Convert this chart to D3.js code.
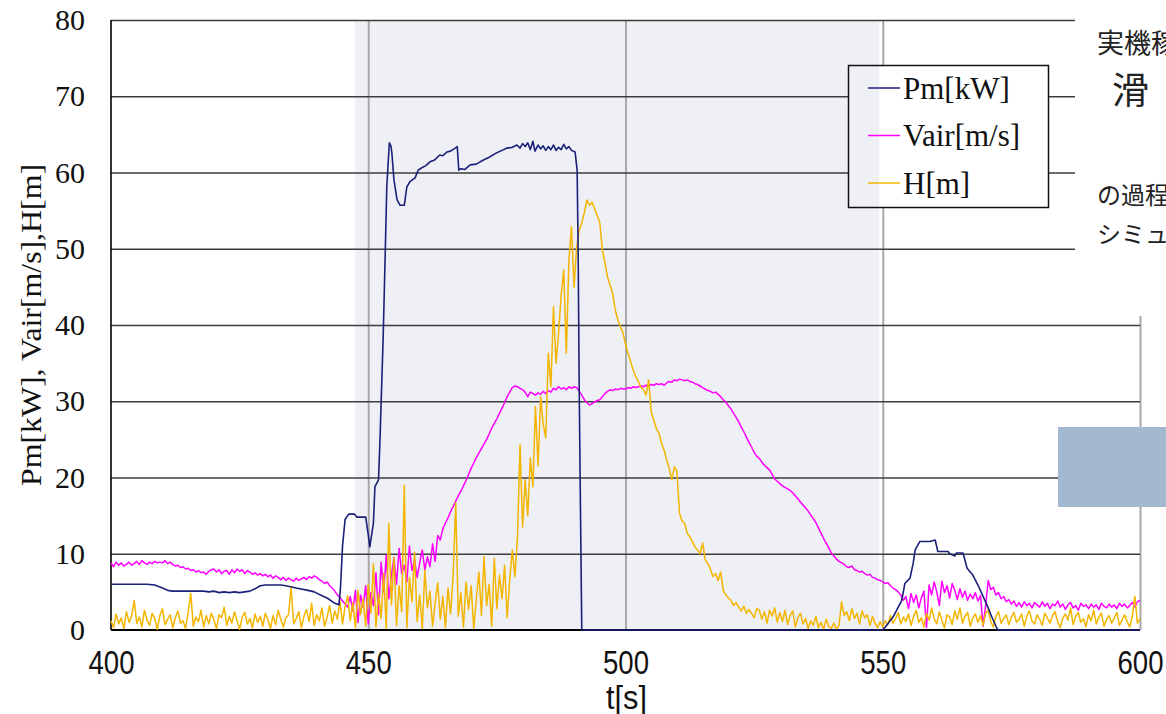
<!DOCTYPE html>
<html>
<head>
<meta charset="utf-8">
<script src="https://cdn.jsdelivr.net/npm/d3@7"></script>
<style>
html, body { margin: 0; padding: 0; background: #fff; overflow: hidden; }
svg { display: block; }
</style>
</head>
<body>
<svg id="chart" width="1166" height="714"></svg>
<script>
// ---- axis setup ----
const xDomain = [400, 600];
const yDomain = [0, 80];
const xTicks = [400, 450, 500, 550, 600];
const yTicks = [0, 10, 20, 30, 40, 50, 60, 70, 80];
const xGridTicks = [450, 500, 550, 600];
const xTitle = "t[s]";
const yTitle = "Pm[kW], Vair[m/s],H[m]";

// ---- series ----
const seriesNames = ["Pm[kW]", "Vair[m/s]", "H[m]"];
const seriesColors = ["#1b2179", "#ff00ff", "#f3b500"];

// highlighted interval [s]
const shadeRange = [447.4, 549.3];

// Vair and H are logged every 0.5 s from t = 400 s
const sampleStart = 400;
const sampleStep = 0.5;

// Pm [kW]: time / value pairs
const pmT = [400, 407, 408.5, 410, 411, 412, 418, 419, 420, 421, 422, 423, 424, 425, 426, 427, 428, 429, 430, 433,
  434, 436, 438.3, 439.5, 441, 442, 443.5, 444.3, 444.6, 445, 445.5, 446.2, 447.3, 447.8, 449.5, 450, 450.3, 451, 451.3, 452,
  452.3, 452.6, 452.9, 453.3, 453.6, 454.1, 454.4, 454.6, 455, 455.6, 456.2, 457, 457.5, 458.1, 459.1, 459.7, 460.6, 461.2, 462, 462.8,
  463.9, 464.5, 465.3, 466, 466.9, 467.3, 467.6, 468, 468.8, 469.8, 471, 472.3, 473.5, 475, 476, 477, 478, 478.9, 479.5, 480,
  480.5, 481, 481.5, 482, 482.4, 483, 483.5, 484, 484.5, 485, 485.5, 486, 486.5, 487, 487.5, 488, 488.5, 489, 489.5, 490.2,
  490.6, 490.8, 491, 491.2, 491.5, 550, 550.5, 552, 553.7, 554.3, 555.3, 555.9, 556.3, 557.2, 559.2, 560.2, 560.7, 562.7, 563, 564,
  564.3, 565.6, 566.4, 567.5, 568.5, 569.5, 570.5, 571.2, 572.2, 572.5, 600];
const pmV = [6.0, 6.0, 5.9, 5.5, 5.2, 5.1, 5.1, 5.0, 5.1, 4.9, 5.0, 4.9, 5.0, 4.9, 5.0, 5.1, 5.4, 5.8, 5.9, 5.9,
  5.8, 5.5, 5.2, 5.0, 4.5, 4.2, 3.5, 3.3, 5.5, 11.0, 14.5, 15.2, 15.2, 14.8, 14.8, 12.5, 10.9, 14.0, 18.8, 19.7,
  25.3, 31.9, 38.4, 49.4, 58.1, 63.9, 63.5, 62.5, 59.0, 56.4, 55.7, 55.7, 58.1, 58.8, 59.3, 60.3, 60.7, 60.9, 61.4, 61.6,
  62.3, 62.2, 62.7, 62.8, 63.2, 63.4, 60.3, 60.5, 60.4, 61.0, 61.1, 61.6, 62.0, 62.6, 62.9, 63.2, 63.3, 63.6, 63.2, 63.8,
  63.4, 63.9, 63.0, 64.1, 62.8, 63.6, 63.1, 63.5, 62.9, 63.4, 63.0, 63.6, 62.9, 63.3, 63.0, 63.7, 63.1, 63.4, 62.9, 62.7,
  60.3, 49.4, 31.9, 18.8, 0, 0, 0.4, 1.7, 3.9, 6.1, 6.8, 8.7, 10.5, 11.6, 11.6, 11.8, 10.3, 10.3, 10.0, 9.7,
  10.1, 10.1, 8.1, 7.2, 5.9, 4.4, 2.9, 1.7, 0.2, 0, 0];

// Vair [m/s], 0.5 s samples
const vairV = [
  8.8, 8.3, 8.9, 8.5, 8.8, 8.4, 8.6, 8.9, 8.5, 8.7,
  9.0, 8.6, 9.1, 8.8, 8.6, 8.9, 8.7, 9.0, 8.8, 8.9,
  8.8, 9.1, 8.7, 8.9, 8.6, 8.4, 8.5, 8.2, 8.3, 8.0,
  8.1, 7.8, 7.9, 7.6, 7.8, 7.5, 7.6, 7.3, 7.7, 7.9,
  8.0, 7.6, 7.9, 7.4, 7.7, 7.8, 7.3, 7.9, 7.5, 8.0,
  7.7, 7.9, 7.4, 7.8, 7.6, 7.3, 7.5, 7.2, 7.4, 7.1,
  7.3, 7.0, 7.2, 6.8, 7.1, 6.9, 6.6, 6.9, 6.5, 6.8,
  6.6, 6.4, 6.8, 6.5, 6.7, 6.9, 6.6, 7.0, 6.8, 7.1,
  6.9, 6.6, 6.4, 6.1, 6.3, 5.8, 5.5, 5.1, 4.6, 4.3,
  3.8, 3.4, 3.0, 4.4, 2.5, 5.2, 1.0, 4.6, 3.0, 5.8,
  0.8, 4.9, 3.2, 7.5, 2.0, 8.9, 5.0, 9.8, 4.1, 7.2,
  9.5, 6.0, 10.7, 7.4, 8.5, 6.3, 11.0, 7.8, 9.2, 6.9,
  8.8, 10.5, 7.9, 9.6, 8.3, 11.3, 9.0, 12.4, 11.8, 13.3,
  14.0, 14.7, 15.5, 16.2, 16.9, 17.6, 18.2, 18.9, 19.6, 20.4,
  21.2, 21.9, 22.6, 23.2, 23.8, 24.4, 25.0, 25.7, 26.5, 27.1,
  27.7, 28.4, 29.1, 29.8, 30.6, 31.2, 31.8, 32.0, 31.9, 31.7,
  31.5, 31.2, 30.6, 31.2, 31.0, 30.8, 31.1, 30.9, 31.3, 31.0,
  31.4, 31.2, 31.7, 31.5, 31.9, 31.6, 31.8, 31.5, 31.9, 31.7,
  31.9, 31.8, 31.3, 30.8, 30.2, 29.8, 29.5, 29.7, 29.9, 30.1,
  30.2, 30.6, 31.0, 31.3, 31.5, 31.4, 31.6, 31.5, 31.7, 31.6,
  31.6, 31.8, 31.7, 31.9, 31.8, 31.9, 32.0, 31.9, 32.1, 32.0,
  32.2, 32.1, 32.3, 32.2, 32.3, 32.1, 32.4, 32.6, 32.5, 32.8,
  32.7, 32.9, 32.8, 32.7, 32.8, 32.6, 32.5, 32.3, 32.2, 32.0,
  31.8, 31.6, 31.4, 31.3, 31.1, 31.2, 30.9, 30.6, 30.2, 29.9,
  29.4, 29.0, 28.4, 27.9, 27.3, 26.6, 26.0, 25.3, 24.6, 24.0,
  23.3, 22.8, 22.5, 22.0, 21.6, 21.3, 21.0, 20.4, 19.8, 19.5,
  19.2, 18.9, 18.7, 18.5, 18.3, 18.0, 17.6, 17.2, 16.8, 16.4,
  16.0, 15.6, 15.1, 14.6, 14.1, 13.4, 12.7, 12.0, 11.4, 10.8,
  10.1, 9.7, 9.3, 9.0, 8.8, 8.6, 8.3, 8.2, 8.4, 7.9,
  7.8, 7.6, 7.7, 7.4, 7.2, 7.3, 6.9, 6.8, 6.6, 6.5,
  6.3, 6.1, 6.2, 5.8, 5.5, 5.3, 5.0, 4.6, 3.9, 4.4,
  2.8, 4.8, 3.6, 4.6, 2.9, 4.2, 5.1, 0.3, 5.9, 4.6,
  6.3, 5.0, 3.2, 6.4, 4.9, 5.8, 4.2, 6.1, 5.2, 4.0,
  5.4, 4.3, 5.1, 3.9, 4.7, 4.1, 4.9, 3.8, 4.5, 0.5,
  3.2, 6.5, 5.3, 5.6, 4.6, 4.9, 4.1, 4.4, 3.7, 4.0,
  3.4, 3.8, 3.1, 3.6, 3.0, 3.7, 3.2, 3.5, 2.9, 3.6,
  3.3, 3.0, 3.7, 3.1, 3.5, 2.8, 3.4, 3.2, 3.8, 3.0,
  3.4, 2.7, 3.3, 3.6, 2.9, 3.2, 2.6, 3.5, 3.1, 3.3,
  2.8, 3.4, 3.0, 3.3, 2.7, 3.5, 3.1, 2.9, 3.4, 3.0,
  3.3, 2.8, 3.5, 3.1, 3.4, 2.9, 3.2, 3.6, 3.0, 3.7,
  3.9];

// H [m], 0.5 s samples
const hV = [
  1.2, 0.3, 2.1, 0.8, 1.6, 0.2, 2.4, 1.0, 1.8, 3.9,
  0.9, 1.7, 0.4, 2.6, 1.3, 0.6, 2.2, 1.5, 0.1, 1.9,
  2.8, 0.7, 1.4, 2.0, 0.3, 1.6, 2.5, 0.9, 1.2, 0.2,
  2.3, 4.8, 0.5, 1.7, 1.1, 2.6, 0.4, 1.9, 0.8, 2.2,
  1.3, 0.2, 2.0, 1.6, 3.0, 0.6, 1.8, 0.9, 2.4, 1.2,
  0.1, 1.7, 2.3, 0.8, 1.5, 0.3, 2.1, 1.0, 1.8, 0.5,
  2.2, 1.3, 0.2, 1.9, 0.7, 2.6, 1.4, 0.4, 1.6, 2.0,
  5.6, 0.8, 1.5, 2.4, 0.3, 1.8, 2.7, 1.1, 3.5, 0.6,
  2.0, 1.2, 2.9, 0.5, 1.7, 3.2, 0.9, 2.5, 1.4, 3.8,
  0.8, 3.1, 4.5, 1.2, 3.6, 0.3, 5.2, 2.0, 4.1, 0.5,
  6.0, 2.2, 8.7, 0.4, 4.8, 1.5, 7.4, 0.2, 14.0, 3.3,
  9.5, 0.6, 5.8, 2.4, 19.0, 0.3, 6.9, 3.7, 10.2, 1.1,
  4.6, 0.2, 7.8, 2.9, 5.1, 0.5, 3.6, 6.2, 1.4, 4.4,
  0.3, 5.5, 2.1, 7.1, 16.7, 1.8, 4.9, 0.4, 6.3, 2.7,
  5.8, 0.2, 4.0, 7.6, 1.9, 9.6, 3.2, 6.0, 0.5, 9.4,
  2.8, 7.2, 4.1, 8.5, 1.6, 6.6, 10.5, 7.0, 12.0, 24.3,
  13.5, 19.7, 15.0, 22.6, 18.8, 29.3, 21.5, 30.6, 27.0, 25.2,
  36.3, 31.9, 42.4, 35.0, 39.0, 44.0, 47.2, 36.3, 48.5, 52.9,
  45.0, 50.2, 52.4, 53.4, 54.7, 56.4, 55.7, 56.1, 55.2, 54.4,
  53.4, 49.8, 48.2, 46.3, 45.2, 44.2, 42.0, 40.7, 39.8, 39.0,
  37.5, 36.3, 35.2, 34.1, 33.2, 32.6, 31.8, 31.5, 30.8, 32.8,
  28.6, 27.5, 26.4, 25.8, 24.5, 23.6, 22.3, 21.2, 19.7, 21.4,
  20.8, 15.3, 14.3, 14.0, 12.7, 12.2, 11.6, 10.9, 10.5, 10.0,
  11.4, 9.2, 8.7, 8.0, 7.0, 7.4, 6.5, 7.6, 5.2, 4.6,
  4.2, 3.9, 3.2, 3.6, 3.0, 2.5, 3.1, 2.2, 2.7, 2.2,
  1.6, 2.8, 2.6, 1.4, 2.4, 0.9, 2.6, 1.8, 2.9, 1.0,
  2.3, 1.1, 2.6, 0.7, 1.9, 2.5, 0.4, 1.6, 2.2, 0.8,
  1.5, 0.2, 1.2, 0.6, 1.8, 0.3, 1.0, 0.1, 1.4, 0.5,
  0.2, 0.9, 0.1, 0.6, 3.7, 1.9, 2.4, 1.2, 2.8, 1.5,
  2.2, 0.8, 2.5, 1.6, 2.0, 0.6, 1.8, 0.9, 0.3, 1.1,
  0.4, 1.2, 0.7, 1.9, 0.9, 1.5, 2.3, 0.8, 1.7, 1.1,
  2.1, 0.6, 1.8, 2.6, 1.0, 1.6, 0.4, 2.2, 1.3, 2.9,
  1.5, 0.8, 2.4, 1.2, 0.3, 2.0, 1.7, 0.7, 2.5, 1.4,
  2.9, 0.9, 1.8, 2.3, 0.5, 1.6, 2.1, 1.0, 1.9, 0.6,
  2.2, 2.6, 1.1, 0.4, 1.8, 2.4, 0.9, 1.5, 2.0, 0.7,
  1.7, 2.3, 1.0, 1.4, 2.1, 0.5, 1.8, 2.5, 1.2, 0.8,
  2.0, 1.4, 0.6, 2.2, 1.6, 0.9, 1.9, 2.4, 1.1, 0.3,
  1.6, 2.1, 1.3, 2.9, 0.7, 1.8, 2.3, 1.0, 1.5, 0.4,
  2.0, 1.2, 2.6, 0.8, 1.7, 2.2, 0.5, 1.4, 1.9, 0.9,
  1.6, 2.3, 0.6, 1.3, 2.0, 1.1, 0.4, 1.8, 4.4, 0.9,
  1.5];

// side notes next to the plot
const noteLines = [
  { text: "実機稼働", x: 1097, y: 53, size: 27 },
  { text: "滑", x: 1112, y: 104, size: 37 },
  { text: "の過程", x: 1097, y: 204, size: 24 },
  { text: "シミュレーション", x: 1097, y: 243, size: 24 }
];

// ---- layout ----
const plot = { left: 111, right: 1140, top: 20, bottom: 630 };
const svg = d3.select("#chart");
const x = d3.scaleLinear().domain(xDomain).range([plot.left, plot.right]);
const y = d3.scaleLinear().domain(yDomain).range([plot.bottom, plot.top]);
const bandColor = "#eff0f5";
const serif = "'Liberation Serif', 'Times New Roman', serif";
const sans = "'Liberation Sans', Arial, sans-serif";

// shaded interval
svg.append("rect")
  .attr("x", x(shadeRange[0])).attr("y", plot.top)
  .attr("width", x(shadeRange[1]) - x(shadeRange[0]))
  .attr("height", plot.bottom - plot.top)
  .attr("fill", bandColor);

// vertical grid
const vGrid = svg.append("g")
  .attr("transform", `translate(0,${plot.bottom})`)
  .call(d3.axisBottom(x).tickValues(xGridTicks).tickSize(-(plot.bottom - plot.top)).tickFormat(""));
vGrid.select(".domain").remove();
vGrid.selectAll("line").attr("stroke", "#a8a8a8").attr("stroke-width", 2);

// horizontal grid
const hGrid = svg.append("g")
  .attr("transform", `translate(${plot.left},0)`)
  .call(d3.axisLeft(y).tickValues(yTicks.filter(v => v > 0)).tickSize(-(plot.right - plot.left)).tickFormat(""));
hGrid.select(".domain").remove();
hGrid.selectAll("line").attr("stroke", "#3c3c3c").attr("stroke-width", 1.6);

// axis lines
svg.append("line").attr("x1", plot.left).attr("x2", plot.left)
  .attr("y1", plot.top).attr("y2", plot.bottom).attr("stroke", "#000").attr("stroke-width", 1.6);
svg.append("line").attr("x1", plot.left).attr("x2", plot.right)
  .attr("y1", plot.bottom).attr("y2", plot.bottom).attr("stroke", "#000").attr("stroke-width", 2);

// y tick labels
const yAxis = svg.append("g")
  .attr("transform", `translate(${plot.left},0)`)
  .call(d3.axisLeft(y).tickValues(yTicks).tickSize(0).tickPadding(26));
yAxis.select(".domain").remove();
yAxis.selectAll("text")
  .attr("font-family", serif).attr("font-size", 30).attr("fill", "#111");

// x tick labels
const xAxis = svg.append("g")
  .attr("transform", `translate(0,${plot.bottom})`)
  .call(d3.axisBottom(x).tickValues(xTicks).tickSize(0).tickPadding(21));
xAxis.select(".domain").remove();
xAxis.selectAll("text")
  .attr("font-family", sans).attr("font-size", 33).attr("fill", "#111")
  .attr("textLength", 46).attr("lengthAdjust", "spacingAndGlyphs");

// axis titles
svg.append("text")
  .attr("x", (plot.left + plot.right) / 2 + 1).attr("y", 709)
  .attr("text-anchor", "middle")
  .attr("font-family", sans).attr("font-size", 33).attr("fill", "#111")
  .attr("textLength", 41).attr("lengthAdjust", "spacingAndGlyphs")
  .text(xTitle);

svg.append("text")
  .attr("transform", "translate(41,325) rotate(-90)")
  .attr("text-anchor", "middle")
  .attr("font-family", serif).attr("font-size", 29).attr("fill", "#111")
  .attr("textLength", 322).attr("lengthAdjust", "spacingAndGlyphs")
  .text(yTitle);

// ---- series ----
const line = d3.line().x(d => x(d[0])).y(d => y(d[1]));
const pmData = pmT.map((t, i) => [t, pmV[i]]);
const vairData = vairV.map((v, i) => [sampleStart + i * sampleStep, v]);
const hData = hV.map((v, i) => [sampleStart + i * sampleStep, v]);

svg.append("path").datum(vairData).attr("d", line)
  .attr("fill", "none").attr("stroke", seriesColors[1]).attr("stroke-width", 1.5).attr("stroke-linejoin", "round");
svg.append("path").datum(hData).attr("d", line)
  .attr("fill", "none").attr("stroke", seriesColors[2]).attr("stroke-width", 1.5).attr("stroke-linejoin", "round");
svg.append("path").datum(pmData).attr("d", line)
  .attr("fill", "none").attr("stroke", seriesColors[0]).attr("stroke-width", 1.6).attr("stroke-linejoin", "round");

// ---- legend ----
const lg = { x: 848, y: 65, w: 200, h: 142 };
const legend = svg.append("g");
legend.append("rect").attr("x", lg.x).attr("y", lg.y).attr("width", lg.w).attr("height", lg.h).attr("fill", "#fff");
const bx0 = Math.max(lg.x, x(shadeRange[0])), bx1 = Math.min(lg.x + lg.w, x(shadeRange[1]));
if (bx1 > bx0) {
  legend.append("rect").attr("x", bx0).attr("y", lg.y).attr("width", bx1 - bx0).attr("height", lg.h).attr("fill", bandColor);
}
legend.append("rect").attr("x", lg.x + 0.5).attr("y", lg.y + 0.5).attr("width", lg.w).attr("height", lg.h)
  .attr("fill", "none").attr("stroke", "#111").attr("stroke-width", 1.5);
seriesNames.forEach((name, i) => {
  const cy = 88 + i * 47.5;
  legend.append("line").attr("x1", 868).attr("x2", 900).attr("y1", cy).attr("y2", cy)
    .attr("stroke", seriesColors[i]).attr("stroke-width", 1.5);
  legend.append("text").attr("x", 903).attr("y", cy).attr("dy", "0.35em")
    .attr("font-family", serif).attr("font-size", 31).attr("fill", "#111").text(name);
});

// ---- side panel ----
svg.append("rect").attr("x", 1075).attr("y", 0).attr("width", 91).attr("height", 316).attr("fill", "#fff");
noteLines.forEach(n => {
  svg.append("text").attr("x", n.x).attr("y", n.y)
    .attr("font-family", "'Noto Sans CJK JP', sans-serif").attr("font-size", n.size).attr("fill", "#222")
    .text(n.text);
});
svg.append("rect").attr("x", 1058).attr("y", 427).attr("width", 108).attr("height", 80).attr("fill", "#a3b9cf");
</script>
</body>
</html>
